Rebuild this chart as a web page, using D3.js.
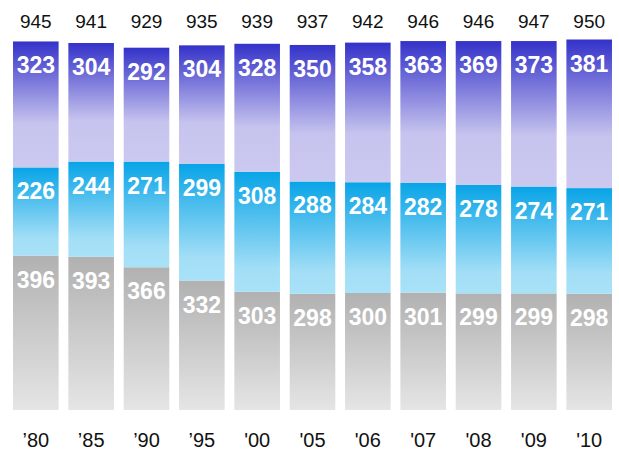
<!DOCTYPE html>
<html>
<head>
<meta charset="utf-8">
<script src="https://cdn.jsdelivr.net/npm/d3@7/dist/d3.min.js"></script>
<style>
  html, body { margin: 0; padding: 0; background: #fff; }
  svg { display: block; }
</style>
</head>
<body>
<svg id="chart" width="619" height="452"></svg>
<script>
// Years shown along the bottom
const years = ["\u201980", "\u201985", "\u201990", "\u201995", "'00", "'05", "'06", "'07", "'08", "'09", "'10"];
// Stacked series, bottom to top
const bottomSeries = [396, 393, 366, 332, 303, 298, 300, 301, 299, 299, 298];
const middleSeries = [226, 244, 271, 299, 308, 288, 284, 282, 278, 274, 271];
const topSeries    = [323, 304, 292, 304, 328, 350, 358, 363, 369, 373, 381];
// Totals printed above each column
const totals       = [945, 941, 929, 935, 939, 937, 942, 946, 946, 947, 950];

const seriesKeys = ["bottom", "middle", "top"];
const rows = years.map((y, i) => ({
  year: y,
  bottom: bottomSeries[i],
  middle: middleSeries[i],
  top: topSeries[i],
  total: totals[i]
}));

const svg = d3.select("#chart");

const x = d3.scaleBand()
  .domain(years)
  .range([8.15, 616.85])
  .paddingInner(0.176)
  .paddingOuter(0.088);

const y = d3.scaleLinear()
  .domain([0, 950])
  .range([410, 39.5]);

// Vertical gradients, one per series
const defs = svg.append("defs");
const gradients = {
  top:    [[0, "#3432c9"], [0.65, "#c6c3ee"], [1, "#cbc9f0"]],
  middle: [[0, "#08a4e7"], [0.8, "#a2def6"], [1, "#a8e2f8"]],
  bottom: [[0, "#b1b1b1"], [1, "#e5e5e5"]]
};
Object.entries(gradients).forEach(([key, stops]) => {
  const g = defs.append("linearGradient")
    .attr("id", "grad-" + key)
    .attr("x1", 0).attr("y1", 0).attr("x2", 0).attr("y2", 1);
  stops.forEach(([o, c]) => g.append("stop").attr("offset", o).attr("stop-color", c));
});

const stack = d3.stack().keys(seriesKeys);
const layers = stack(rows);

const layerG = svg.selectAll("g.layer")
  .data(layers)
  .join("g")
  .attr("class", "layer");

layerG.selectAll("rect")
  .data(d => d.map(p => ({ key: d.key, p })))
  .join("rect")
  .attr("x", d => x(d.p.data.year))
  .attr("width", x.bandwidth())
  .attr("y", d => y(d.p[1]))
  .attr("height", d => y(d.p[0]) - y(d.p[1]))
  .attr("fill", d => `url(#grad-${d.key})`);

// Segment values in white, near the top of each segment
layerG.selectAll("text")
  .data(d => d.map(p => ({ key: d.key, p })))
  .join("text")
  .attr("x", d => x(d.p.data.year) + x.bandwidth() / 2)
  .attr("y", d => y(d.p[1]) + 32)
  .attr("text-anchor", "middle")
  .attr("fill", "#fff")
  .attr("font-family", "'Liberation Sans', Arial, sans-serif")
  .attr("font-weight", "bold")
  .attr("font-size", 23)
  .text(d => d.p.data[d.key]);

// Totals across the top
svg.append("g")
  .selectAll("text")
  .data(rows)
  .join("text")
  .attr("x", d => x(d.year) + x.bandwidth() / 2)
  .attr("y", 28)
  .attr("text-anchor", "middle")
  .attr("fill", "#111")
  .attr("font-family", "'Liberation Sans', Arial, sans-serif")
  .attr("font-size", 19)
  .text(d => d.total);

// Year axis without domain line or ticks
const xAxis = svg.append("g")
  .attr("transform", "translate(0,410)")
  .call(d3.axisBottom(x).tickSize(0).tickPadding(0));
xAxis.select(".domain").remove();
xAxis.selectAll("text")
  .attr("y", 37)
  .attr("dy", 0)
  .attr("fill", "#111")
  .attr("font-family", "'Liberation Sans', Arial, sans-serif")
  .attr("font-size", 20);
</script>
</body>
</html>
